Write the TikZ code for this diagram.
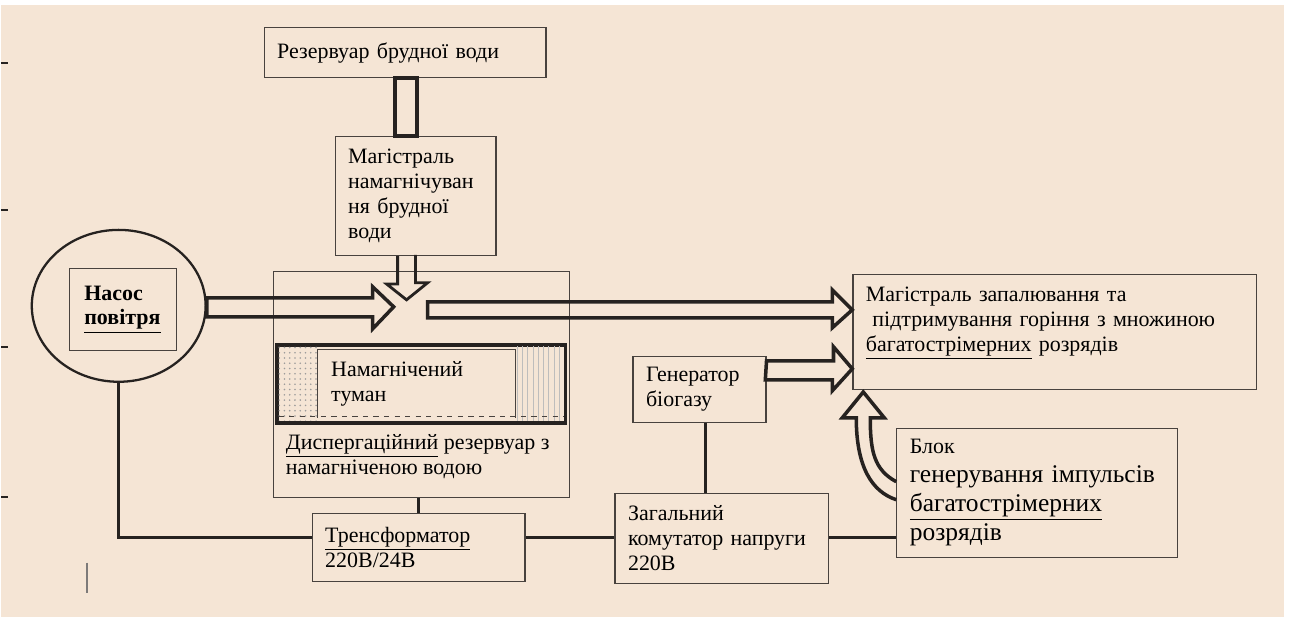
\documentclass[tikz,border=0pt]{standalone}
\usepackage{fontspec}
\setmainfont{Liberation Serif}
\usetikzlibrary{calc,positioning,patterns,shapes.geometric}
\definecolor{paper}{RGB}{245,229,213}
\definecolor{ink}{RGB}{38,34,32}
\definecolor{frame}{RGB}{72,66,62}

\begin{document}
\begin{tikzpicture}[x=0.02cm,y=-0.02cm]

\tikzset{blok/.style={draw=frame,line width=0.7pt,anchor=north west,align=left,inner xsep=0.26cm,inner ysep=0pt,font=\fontsize{12.5}{14.2}\selectfont},
txt/.style={anchor=west,align=left,inner sep=0pt,font=\fontsize{12.5}{14.2}\selectfont},
pipe/.style={draw=ink,line width=2pt,line join=miter},
wire/.style={draw=ink,line width=1.6pt}}

% paper
\fill[white] (0,0) rectangle (1298,627);
\fill[paper] (0,5) rectangle (1284,617);
\foreach \y in {63,210,347,497} \draw[ink,line width=0.9pt] (0,\y) -- (7,\y); % margin marks
\draw[ink!60,line width=1pt] (86,563) -- (86,593);

% boxes
\node[blok,text width=5.12cm,minimum height=1cm] (rezerv) at (263,27) {Резервуар брудної води};
\node[blok,text width=2.70cm,minimum height=2.38cm] (magn) at (334,136) {Магістраль\\намагнічуван\\ня брудної\\води};
\node[draw=frame,line width=0.6pt,anchor=north west,minimum width=5.94cm,minimum height=4.52cm,inner sep=0pt] (disp) at (272,271) {};
\node[draw=ink,line width=1.3pt,ellipse,minimum width=3.48cm,minimum height=3.04cm,inner sep=0pt] (nasos) at (118,306) {};
\node[blok,font=\fontsize{12.5}{14.2}\selectfont\bfseries,text width=1.54cm,inner xsep=0.3cm,minimum height=1.64cm] (nasosbox) at (68,268) {Насос\\\underline{повітря}};
\node[blok,text width=7.56cm,minimum height=2.30cm] (magz) at (852,274) {Магістраль запалювання та\\\hspace{0.3em}підтримування горіння з множиною\\\underline{багатострімерних} розрядів\\\mbox{}};
\node[blok,text width=2.14cm,minimum height=1.32cm] (gen) at (632,356) {Генератор\\біогазу};
\node[blok,text width=3.76cm,minimum height=1.80cm] (zag) at (614,493) {Загальний\\комутатор напруги\\220В};
\node[blok,text width=3.74cm,minimum height=1.36cm] (trans) at (311,513) {\underline{Тренсформатор}\\220В/24В};
\node[blok,font=\fontsize{14.5}{16.5}\selectfont,text width=5.10cm,minimum height=2.58cm] (blok) at (896,428) {{\fontsize{12.5}{14.2}\selectfont Блок}\\генерування імпульсів\\\underline{багатострімерних}\\розрядів};

% dispersion tank insides
\draw[ink,line width=2.2pt] (276,345) rectangle (565,423);
\fill[pattern=dots,pattern color=ink!45] (278,347) rectangle (317,421);
\fill[pattern=vertical lines,pattern color=ink!30] (514,347) rectangle (563,421);
\node[blok,draw=none,fill=paper,text width=3.42cm,minimum height=1.34cm] (tuman) at (317,350) {Намагнічений\\туман};
\draw[frame,line width=0.6pt] (tuman.south west) -- (tuman.north west) -- (tuman.north east) -- (tuman.south east);
\draw[frame,line width=0.6pt,dashed] (278,417) -- (563,417);
\node[txt] (disptext) at (285,457) {\underline{Диспергаційний} резервуар з\\намагніченою водою};

% pipes and hollow arrows
\coordinate (mix) at (406,300);
\coordinate (mixout) at (427,310);
\draw[pipe] ($(rezerv.south)+(-10,0)$) rectangle ($(rezerv.south |- magn.north)+(12,0)$);
\draw[pipe,line width=1.6pt] ($(magn.south)+(-18,0)$) -- ++(0,28) -- ++(-11,0) -- (mix) -- ++(21,-17) -- ++(-12,0) -- ++(0,-28);
\draw[pipe] ($(nasos.east)+(0,-8)$) -- ++(166,0) -- ++(0,-11) -- ++(21,20) -- ++(-21,22) -- ++(0,-12) -- ++(-166,0) -- cycle;
\draw[pipe] ($(mixout)+(0,-8)$) -- ++(405,0) -- ++(0,-12) -- ($(magz.north west)+(0,36)$) -- ++(-20,18) -- ++(0,-10) -- ++(-405,0) -- cycle;
\draw[pipe] ($(gen.north east)+(0,5)$) -- ++(67,0) -- ++(0,-14) -- ($(magz.north west)+(0,95)$) -- ++(-20,22) -- ++(0,-11) -- ++(-67,0) -- cycle;
\draw[pipe] ($(blok.north west)+(0,54)$) .. controls (874,470) and (870,452) .. (870,418) -- (884,418) -- ($(magz.south west)+(11,2)$) -- (842,418) -- (856,418) .. controls (856,468) and (872,492) .. ($(blok.north west)+(0,72)$);

% wires
\coordinate (bus) at (0,538);
\draw[wire] (nasos.south) |- (trans.west |- bus);
\draw[wire] (disp.south -| trans.north) -- (trans.north);
\draw[wire] (trans.east |- bus) -- (zag.west |- bus);
\draw[wire] ($(gen.south)+(6,0)$) -- ($(gen.south |- zag.north)+(6,0)$);
\draw[wire] (zag.east |- bus) -- (blok.west |- bus);

\end{tikzpicture}
\end{document}
